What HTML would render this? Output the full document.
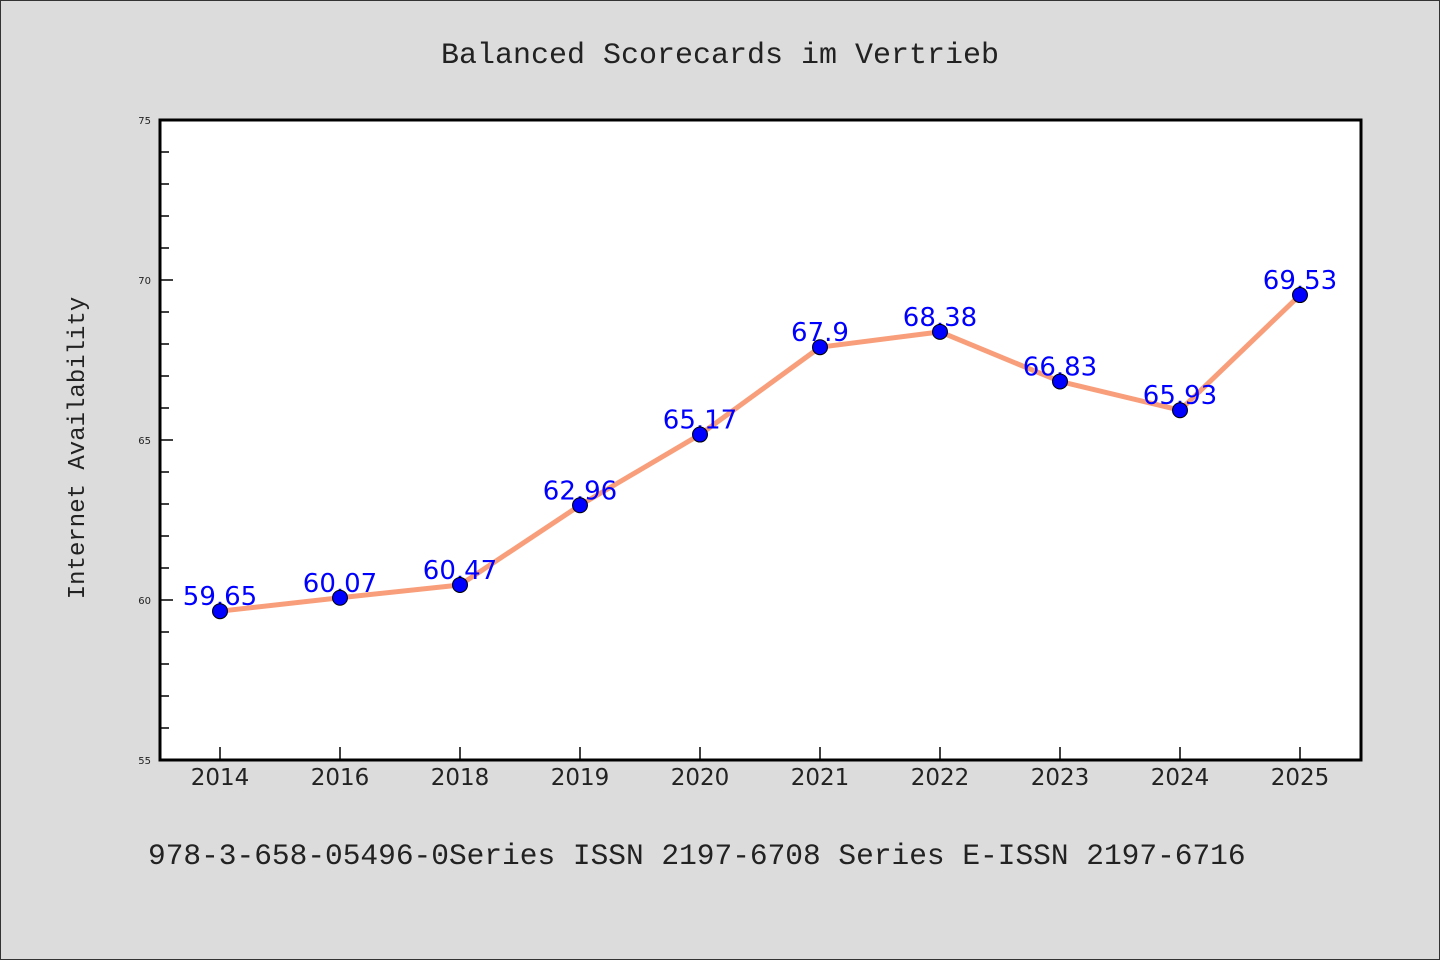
<!DOCTYPE html>
<html><head><meta charset="utf-8"><style>
html,body{margin:0;padding:0;background:#dcdcdc;}
svg{display:block;}
</style></head><body>
<svg width="1440" height="960" xmlns="http://www.w3.org/2000/svg">
<rect x="0.5" y="0.5" width="1439" height="959" fill="#dcdcdc" stroke="#333"/>
<text x="720" y="63" text-anchor="middle" font-family="Liberation Mono, monospace" font-size="30" fill="#222">Balanced Scorecards im Vertrieb</text>
<rect x="160" y="120" width="1201" height="640" fill="#fff"/>
<g id="ticks"></g>
<g id="series"></g>
<rect x="160" y="120" width="1201" height="640" fill="none" stroke="#000" stroke-width="3"/>
<text transform="translate(84,448) rotate(-90)" text-anchor="middle" font-family="Liberation Mono, monospace" font-size="24" fill="#222">Internet Availability</text>
<text x="148" y="864" font-family="Liberation Mono, monospace" font-size="29.5" fill="#222">978-3-658-05496-0Series ISSN 2197-6708 Series E-ISSN 2197-6716</text>
</svg>
<script>
const categories=["2014","2016","2018","2019","2020","2021","2022","2023","2024","2025"];
const values=[59.65,60.07,60.47,62.96,65.17,67.9,68.38,66.83,65.93,69.53];
const yTicks=[55,60,65,70,75];
const NS="http://www.w3.org/2000/svg";
const yMin=55,yMax=75,plotTop=120,plotBot=760;
function y(v){return plotBot-(v-yMin)/(yMax-yMin)*(plotBot-plotTop);}
function x(i){return 220+i*120;}
function mk(t,a,p){const e=document.createElementNS(NS,t);for(const k in a)e.setAttribute(k,a[k]);p.appendChild(e);return e;}
const tg=document.getElementById('ticks'),sg=document.getElementById('series');
for(let v=yMin;v<=yMax;v++){
 const major=yTicks.includes(v);
 const l=mk('line',{x1:160,x2:major?173:169,y1:y(v),y2:y(v),stroke:'#000','stroke-width':1.5},tg);
 
 
}
yTicks.forEach(v=>{
 const t=mk('text',{x:151,y:y(v)+4,'text-anchor':'end','font-family':'DejaVu Sans, sans-serif','font-size':10,fill:'#222'},tg);
 t.textContent=v;
 
 
});
categories.forEach((c,i)=>{
 const l=mk('line',{x1:x(i),x2:x(i),y1:760,y2:747,stroke:'#000','stroke-width':1.5},tg);
 
 
 const t=mk('text',{x:x(i),y:785,'text-anchor':'middle','font-family':'DejaVu Sans, sans-serif','font-size':23,fill:'#222'},tg);
 t.textContent=c;
 
 
});
const pl=mk('polyline',{points:values.map((v,i)=>x(i)+','+y(v)).join(' '),fill:'none',stroke:'#f99e7a','stroke-width':5,'stroke-linejoin':'round'},sg);


values.forEach((v,i)=>{
 const lab=mk('text',{x:x(i),y:y(v)-6,'text-anchor':'middle','font-family':'DejaVu Sans, sans-serif','font-size':26,fill:'#0000ff'},sg);
 lab.textContent=v;
 
 
});
values.forEach((v,i)=>{
 const c=mk('circle',{cx:x(i),cy:y(v),r:7.5,fill:'#0000ff',stroke:'#000','stroke-width':1},sg);
 
 
});
</script>
</body></html>
